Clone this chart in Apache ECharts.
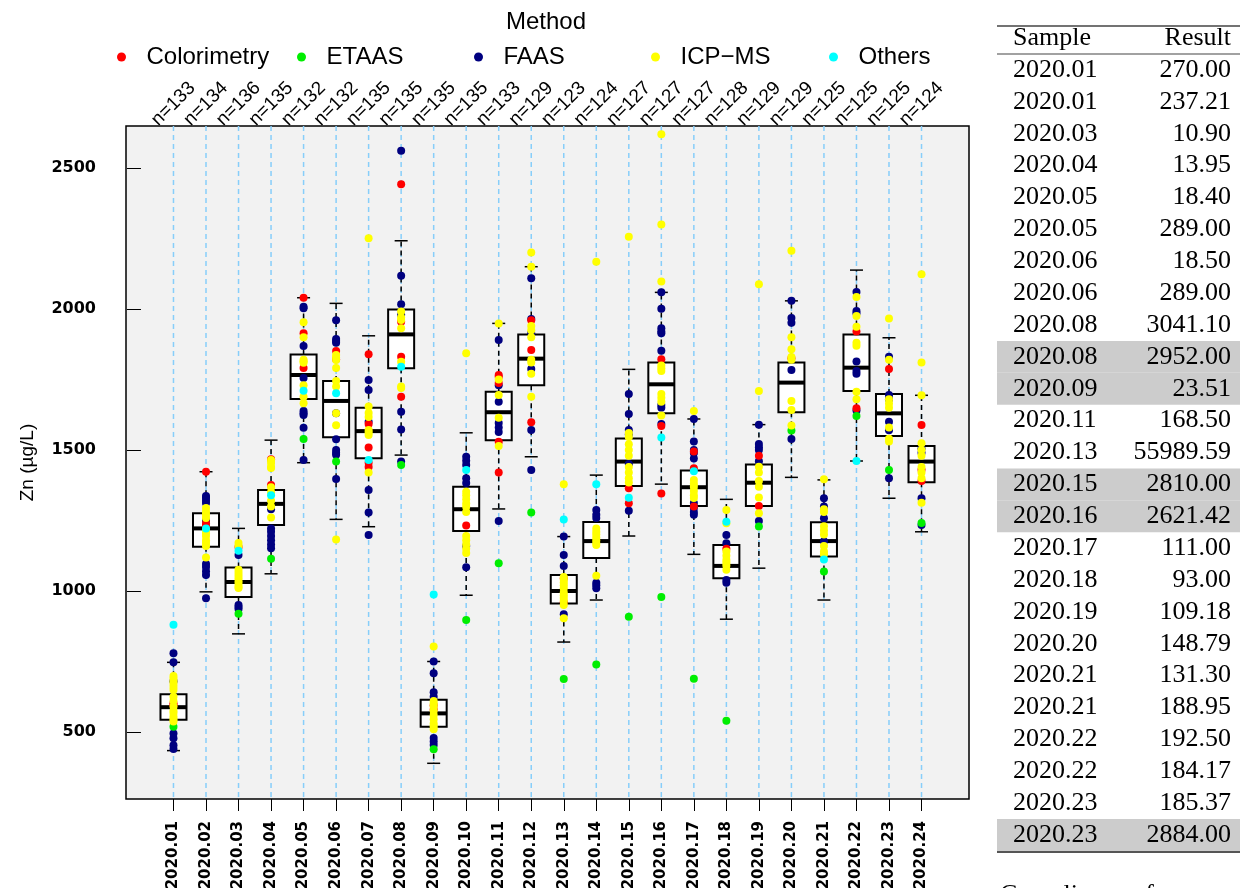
<!DOCTYPE html>
<html><head><meta charset="utf-8">
<script src="https://cdn.jsdelivr.net/npm/echarts@6/dist/echarts.min.js"></script>
<style>html,body{margin:0;padding:0;background:#fff}#c{width:1240px;height:888px}</style>
</head><body><div id="c"></div>
<script>
// ---------- data ----------
const categories = ['2020.01','2020.02','2020.03','2020.04','2020.05','2020.06','2020.07','2020.08','2020.09','2020.10','2020.11','2020.12','2020.13','2020.14','2020.15','2020.16','2020.17','2020.18','2020.19','2020.20','2020.21','2020.22','2020.23','2020.24'];
const nCounts = [133,134,136,135,132,132,135,135,135,135,133,129,123,124,127,127,127,128,129,129,125,125,125,124];
const yTicks = [500,1000,1500,2000,2500];
const methods = ['Colorimetry','ETAAS','FAAS','ICP\u2212MS','Others'];
const methodColors = ['#ff0000','#00ee00','#000080','#ffff00','#00ffff'];

const boxLow  = [434, 997, 848,1061,1455,1254,1228,1482, 389, 985,1291,1476, 819, 968,1195,1379,1130, 900,1081,1403, 968,1461,1329,1210];
const boxQ1   = [543,1157, 979,1234,1681,1545,1471,1790, 519,1213,1535,1730, 956,1117,1372,1630,1301,1045,1301,1634,1122,1709,1550,1386];
const boxMed  = [588,1222,1032,1309,1766,1674,1567,1910, 566,1290,1634,1824,1000,1177,1459,1733,1368,1089,1384,1739,1177,1792,1630,1459];
const boxQ3   = [634,1276,1083,1358,1839,1745,1650,1998, 614,1370,1707,1910,1057,1245,1541,1810,1427,1163,1449,1810,1244,1910,1699,1514];
const boxHigh = [747,1423,1222,1535,2040,2020,1905,2242, 750,1561,1949,2150,1193,1411,1786,2059,1610,1325,1590,2029,1394,2138,1898,1694];

const colorimetry = [[602,595],[1423,1240,1232],[1156],[1467,1376],[2040,1914,1791],[1851,1822],[1840,1592,1509,1455,1440],[2442,1955,1831,1689],[595,580],[1232],[1766,1760,1738,1529,1420],[1960,1855,1598],[1045,960],[],[1364,1311],[1822,1585,1346],[1495,1435,1300],[1150],[1480,1301],[1825],[],[1920,1648],[1787],[1589,1430,1390]];
const etaas = [[519],[],[919],[1114],[1539],[1459],[],[1447],[439],[897],[1098],[1278],[688],[739],[909],[979],[689],[540],[1229],[1569],[1069],[1621],[1429],[1241]];
const faas = [[779,747,680,495,478,453,440],[1337,1330,1320,1312,1250,1096,1085,1070,1057,974],[1128,950,943,936],[1290,1222,1210,1195,1180,1165,1152],[2008,2003,1869,1755,1638,1630,1624,1579,1465],[1960,1894,1887,1880,1630,1538,1500,1490,1483,1397],[1748,1713,1600,1358,1278,1199],[2561,2118,2017,1980,1636,1573,1459],[750,708,641,625,479,466,454],[1476,1462,1447,1400,1383,1160,1084],[1890,1730,1671,1596,1580,1564,1248],[2109,1965,1914,1787,1571,1429],[1193,1128,1089,918],[1287,1270,1259,1029,1020,1010],[1699,1628,1571,1555,1450,1285],[2059,2001,1932,1920,1914,1852,1660,1650,1592],[1610,1530,1500,1489,1470,1312,1295,1280,1270],[1199,1169,1039,1029],[1590,1521,1510,1500,1460,1248],[2029,1968,1951,1784,1539],[1329,1300,1258,1176],[2060,1993,1985,1814,1780,1770,1640],[1831,1695,1680,1600,1570,1400],[1505,1490,1329,1234]];
const icpms = [[699,690,680,670,660,649,625,610,590,575,567,555,545,537],[1294,1280,1270,1259,1215,1205,1195,1180,1170,1160,1119],[1170,1160,1075,1065,1055,1045,1035,1025,1015,1011],[1465,1454,1440,1436,1368,1350,1320,1300,1261],[1953,1900,1820,1815,1809,1730,1689,1666],[1837,1828,1819,1791,1745,1725,1630,1588,1183],[2251,1654,1631,1617,1571,1562,1553,1420],[1991,1970,1961,1932,1813,1725,1720],[803,610,600,590,575,560,545,530,520,510],[1843,1352,1340,1325,1310,1299,1280,1195,1180,1165,1150,1135],[1949,1750,1695,1614,1514],[2200,2150,1940,1925,1900,1820,1810,1770,1689],[1379,1050,1040,1030,1020,1010,995,985,975,965,950,903],[2168,1222,1210,1200,1190,1180,1170,1163,1054],[2256,1560,1546,1520,1500,1480,1440,1420,1400,1385],[2620,2300,2098,1800,1790,1780,1699,1685,1671,1622],[1638,1394,1380,1370,1355,1340,1330],[1287,1240,1140,1125,1110,1100,1090,1075],[2088,1709,1441,1420,1390,1370,1332,1276],[2207,1900,1857,1830,1820,1674,1642,1587],[1396,1290,1280,1230,1215,1200,1160,1140,1130],[2043,1975,1937,1880,1870,1707,1680],[1966,1820,1680,1665,1650,1580,1540,1530],[2123,1810,1694,1524,1500,1480,1440,1420,1400,1313]];
const others = [[880],[1222],[1143],[1340],[1710],[1701],[1465],[1795],[988],[1429],[],[],[1254],[1379],[1331],[1544],[1425],[1246],[],[],[1112],[1461],[],[]];

const tableHeader = ['Sample','Result'];
const tableSample = ['2020.01','2020.01','2020.03','2020.04','2020.05','2020.05','2020.06','2020.06','2020.08','2020.08','2020.09','2020.11','2020.13','2020.15','2020.16','2020.17','2020.18','2020.19','2020.20','2020.21','2020.21','2020.22','2020.22','2020.23','2020.23'];
const tableResult = ['270.00','237.21','10.90','13.95','18.40','289.00','18.50','289.00','3041.10','2952.00','23.51','168.50','55989.59','2810.00','2621.42','111.00','93.00','109.18','148.79','131.30','188.95','192.50','184.17','185.37','2884.00'];
const tableHighlight = [0,0,0,0,0,0,0,0,0,1,1,0,0,1,1,0,0,0,0,0,0,0,0,0,1];
const footText = 'Compliance of';

// ---------- chart ----------
const catIdx = categories.map((c, i) => i + 1);
const methodValues = [colorimetry, etaas, faas, icpms, others];
const toPoints = arr => arr.flatMap((vals, i) => vals.map(v => [i + 1, v]));
const legendLeft = [117, 297, 474, 651, 829];
const sans = '"Liberation Sans", Arial, sans-serif';
const serif = '"Liberation Serif", "Times New Roman", serif';
const tableFont = '26px ' + serif;

const chart = echarts.init(document.getElementById('c'), null, {renderer: 'canvas'});

const option = {
  animation: false,
  backgroundColor: '#ffffff',
  title: {
    text: 'Method', left: 506, top: 10, padding: 0,
    textStyle: {fontFamily: sans, fontSize: 24, fontWeight: 'normal', color: '#000'}
  },
  legend: methods.map((m, i) => ({
    data: [m], left: legendLeft[i], top: 45, padding: 0,
    itemWidth: 40, itemHeight: 9, icon: 'circle', selectedMode: false,
    textStyle: {fontFamily: sans, fontSize: 24, color: '#000'}
  })),
  grid: [
    {left: 126, top: 126, width: 843, height: 673, show: true, containLabel: false, outerBoundsMode: 'none',
     backgroundColor: '#f2f2f2', borderColor: '#000', borderWidth: 1.5},
    {left: 997, top: 54, width: 243, height: 797, containLabel: false, outerBoundsMode: 'none'}
  ],
  xAxis: [
    {type: 'value', gridIndex: 0, min: -0.46, max: 25.46,
     axisLine: {show: false}, splitLine: {show: false},
     axisTick: {show: true, customValues: catIdx, length: 12, lineStyle: {color: '#000', width: 1}},
     axisLabel: {customValues: catIdx, rotate: 90, margin: 22,
       formatter: v => categories[Math.round(v) - 1],
       fontFamily: '"DejaVu Sans", sans-serif', fontWeight: 'bold', fontSize: 15, color: '#000'}},
    {type: 'value', gridIndex: 0, position: 'top', min: -0.46, max: 25.46,
     axisLine: {show: false}, splitLine: {show: false}, axisTick: {show: false},
     axisLabel: {customValues: catIdx, rotate: -45, margin: 22, align: 'center', verticalAlign: 'middle',
       formatter: v => 'n=' + nCounts[Math.round(v) - 1],
       fontFamily: sans, fontSize: 19, color: '#000'}},
    {type: 'value', gridIndex: 1, min: 0, max: 1, show: false}
  ],
  yAxis: [
    {type: 'value', gridIndex: 0, min: 262.4, max: 2649,
     name: 'Zn (\u00b5g/L)', nameLocation: 'middle', nameGap: 89, nameRotate: 90,
     nameTextStyle: {fontFamily: sans, fontSize: 19, color: '#000'},
     axisLine: {show: false}, splitLine: {show: false},
     axisTick: {show: true, customValues: yTicks, length: 14, lineStyle: {color: '#000', width: 1}},
     axisLabel: {customValues: yTicks, margin: 30, formatter: v => String(Math.round(v)),
       fontFamily: '"DejaVu Sans", sans-serif', fontWeight: 'bold', fontSize: 16, color: '#000'}},
    {type: 'category', gridIndex: 1, inverse: true, show: false,
     data: tableSample.map((s, i) => i)}
  ],
  series: [
    {
      type: 'custom', name: 'guides', xAxisIndex: 0, yAxisIndex: 0, z: 1, silent: true,
      data: catIdx.map(i => [i, 1000]),
      renderItem: (params, api) => {
        const cs = params.coordSys;
        const x = api.coord([api.value(0), api.value(1)])[0];
        return {type: 'line', shape: {x1: x, y1: cs.y, x2: x, y2: cs.y + cs.height},
          style: {stroke: '#87cefa', lineWidth: 1.5, lineDash: [5, 4]}};
      }
    },
    {
      type: 'custom', name: 'boxes', xAxisIndex: 0, yAxisIndex: 0, z: 2, silent: true,
      data: catIdx.map((x, i) => [x, boxLow[i], boxQ1[i], boxMed[i], boxQ3[i], boxHigh[i]]),
      encode: {x: 0, y: [1, 2, 3, 4, 5]},
      renderItem: (params, api) => {
        const x = api.value(0);
        const pL = api.coord([x, api.value(1)]);
        const p1 = api.coord([x, api.value(2)]);
        const pM = api.coord([x, api.value(3)]);
        const p3 = api.coord([x, api.value(4)]);
        const pH = api.coord([x, api.value(5)]);
        const bw = api.size([0.8, 0])[0];
        const cw = bw / 2;
        const cx = pM[0];
        const dash = {stroke: '#000', lineWidth: 1.5, lineDash: [5, 4]};
        const solid = {stroke: '#000', lineWidth: 1.5};
        return {type: 'group', children: [
          {type: 'line', shape: {x1: cx, y1: p3[1], x2: cx, y2: pH[1]}, style: dash},
          {type: 'line', shape: {x1: cx, y1: p1[1], x2: cx, y2: pL[1]}, style: dash},
          {type: 'line', shape: {x1: cx - cw / 2, y1: pH[1], x2: cx + cw / 2, y2: pH[1]}, style: solid},
          {type: 'line', shape: {x1: cx - cw / 2, y1: pL[1], x2: cx + cw / 2, y2: pL[1]}, style: solid},
          {type: 'rect', shape: {x: cx - bw / 2, y: p3[1], width: bw, height: p1[1] - p3[1]},
           style: {fill: '#fff', stroke: '#000', lineWidth: 2}},
          {type: 'line', shape: {x1: cx - bw / 2, y1: pM[1], x2: cx + bw / 2, y2: pM[1]},
           style: {stroke: '#000', lineWidth: 4}}
        ]};
      }
    },
    ...[2, 0, 1, 3, 4].map((k, j) => ({
      type: 'scatter', name: methods[k], xAxisIndex: 0, yAxisIndex: 0, z: 3 + j, silent: true,
      symbol: 'circle', symbolSize: 8,
      itemStyle: {color: methodColors[k], opacity: 1},
      data: toPoints(methodValues[k])
    })),
    {
      type: 'custom', name: 'table', xAxisIndex: 2, yAxisIndex: 1, z: 2, silent: true,
      data: tableSample.map((s, i) => [0, i]),
      renderItem: (params, api) => {
        const cs = params.coordSys;
        const row = api.value(1);
        const p = api.coord([0, row]);
        const h = api.size([0, 1])[1];
        const idx = params.dataIndex;
        const children = [];
        if (tableHighlight[idx]) {
          children.push({type: 'rect', shape: {x: cs.x, y: p[1] - h / 2, width: cs.width, height: h},
            style: {fill: '#cccccc'}});
        }
        children.push({type: 'text', style: {text: tableSample[idx], x: cs.x + 16, y: p[1],
          textAlign: 'left', textVerticalAlign: 'middle', font: tableFont, fill: '#000'}});
        children.push({type: 'text', style: {text: tableResult[idx], x: cs.x + 234, y: p[1],
          textAlign: 'right', textVerticalAlign: 'middle', font: tableFont, fill: '#000'}});
        return {type: 'group', children};
      }
    }
  ],
  graphic: [
    {type: 'line', shape: {x1: 997, y1: 26, x2: 1240, y2: 26}, style: {stroke: '#444', lineWidth: 1.5}},
    {type: 'line', shape: {x1: 997, y1: 54, x2: 1240, y2: 54}, style: {stroke: '#444', lineWidth: 1.2}},
    {type: 'line', shape: {x1: 997, y1: 852, x2: 1240, y2: 852}, style: {stroke: '#555', lineWidth: 2}},
    {type: 'text', style: {text: tableHeader[0], x: 1013, y: 38, textAlign: 'left', textVerticalAlign: 'middle', font: tableFont, fill: '#000'}},
    {type: 'text', style: {text: tableHeader[1], x: 1231, y: 38, textAlign: 'right', textVerticalAlign: 'middle', font: tableFont, fill: '#000'}},
    {type: 'text', style: {text: footText, x: 1000, y: 882, textAlign: 'left', textVerticalAlign: 'top', font: tableFont, fill: '#000'}}
  ]
};
chart.setOption(option);
</script>
</body></html>
